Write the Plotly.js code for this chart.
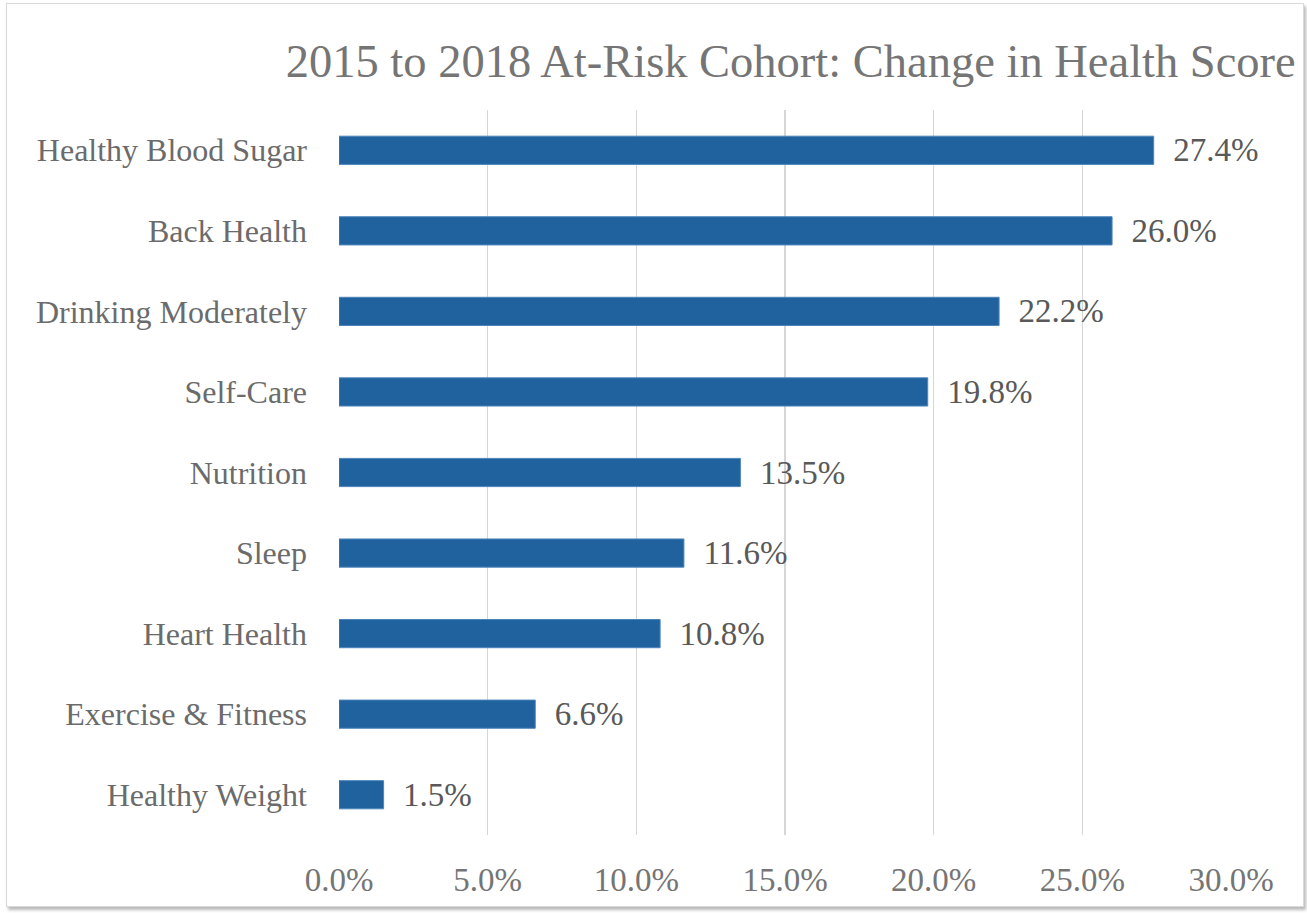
<!DOCTYPE html>
<html>
<head>
<meta charset="utf-8">
<script src="https://cdn.plot.ly/plotly-3.0.1.min.js"></script>
<style>
  html, body { margin: 0; padding: 0; background: #ffffff; }
  #wrap { position: relative; width: 1307px; height: 913px; }
  #chart { position: absolute; left: 0; top: 0; width: 1307px; height: 913px; }
  #frame { position: absolute; left: 6px; top: 3px; width: 1296px; height: 902px;
           border: 1.5px solid #d9d9d9; box-shadow: 2px 3px 3px rgba(0,0,0,0.28);
           pointer-events: none; }
</style>
</head>
<body>
<div id="wrap">
  <div id="chart"></div>
  <div id="frame"></div>
</div>
<script>
const categories = [
  "Healthy Blood Sugar",
  "Back Health",
  "Drinking Moderately",
  "Self-Care",
  "Nutrition",
  "Sleep",
  "Heart Health",
  "Exercise & Fitness",
  "Healthy Weight"
];
const changeValues = [27.4, 26.0, 22.2, 19.8, 13.5, 11.6, 10.8, 6.6, 1.5];
const xTickValues = [0, 5, 10, 15, 20, 25, 30];
const xTickLabels = ["0.0%", "5.0%", "10.0%", "15.0%", "20.0%", "25.0%", "30.0%"];
const chartTitle = "2015 to 2018 At-Risk Cohort: Change in Health Score";

const FONT = "Liberation Serif, Times New Roman, serif";

const trace = {
  type: "bar",
  orientation: "h",
  y: categories,
  x: changeValues,
  text: changeValues.map(v => "\u00a0\u00a0" + v.toFixed(1) + "%"),
  textposition: "outside",
  constraintext: "none",
  cliponaxis: false,
  textfont: { family: FONT, size: 33, color: "#595959" },
  marker: { color: "#1f629e", line: { color: "#4d84bb", width: 1 } },
  hoverinfo: "skip"
};

const layout = {
  width: 1307,
  height: 913,
  margin: { l: 339, r: 76, t: 110, b: 78 },
  paper_bgcolor: "#ffffff",
  plot_bgcolor: "#ffffff",
  bargap: 0.65,
  showlegend: false,
  title: {
    text: chartTitle,
    font: { family: FONT, size: 46.5, color: "#757575" },
    x: 0.605, xanchor: "center",
    y: 0.933, yanchor: "middle"
  },
  xaxis: {
    range: [0, 30],
    tickvals: xTickValues,
    ticktext: xTickLabels,
    showgrid: true,
    gridcolor: "#d6d6d6",
    gridwidth: 1.6,
    zeroline: false,
    showline: false,
    ticks: "",
    ticklabelstandoff: 22,
    tickfont: { family: FONT, size: 33, color: "#757575" },
    fixedrange: true
  },
  yaxis: {
    autorange: "reversed",
    showgrid: false,
    zeroline: false,
    showline: false,
    ticks: "",
    ticklabelstandoff: 31,
    tickfont: { family: FONT, size: 32, color: "#6b6b6b" },
    fixedrange: true
  }
};

Plotly.newPlot("chart", [trace], layout, { displayModeBar: false, staticPlot: true });
</script>
</body>
</html>
